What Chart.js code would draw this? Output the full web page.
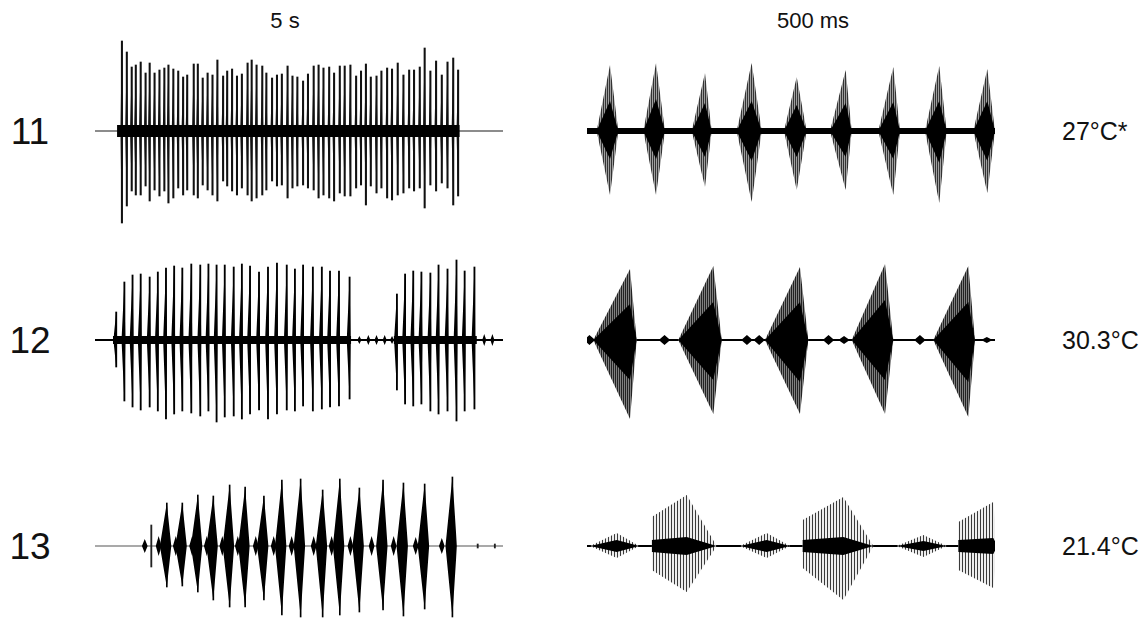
<!DOCTYPE html>
<html>
<head>
<meta charset="utf-8">
<title>Oscillograms</title>
<script src="https://cdn.jsdelivr.net/npm/chart.js@4.4.1/dist/chart.umd.min.js"></script>
<style>
  html, body { margin: 0; padding: 0; background: #fff; }
  body {
    width: 1147px; height: 618px; overflow: hidden; position: relative;
    font-family: "Liberation Sans", Arial, sans-serif; color: #111;
  }
  canvas { position: absolute; }
  .lbl { position: absolute; white-space: nowrap; line-height: 1; }
  .head { font-size: 22px; transform: translate(-50%, -50%); }
  .row { font-size: 37px; transform: translate(-50%, -50%); }
  .temp { font-size: 25px; transform: translateY(-50%); }
</style>
</head>
<body>
<script>
// Labels
const rowLabels = ["11", "12", "13"];
const temperatures = ["27°C*", "30.3°C", "21.4°C"];
const spanLabels = ["5 s", "500 ms"];

// ---- Left column: 5 s (time in s, relative amplitude) ----
// 11: pulse times, positive / negative peak amplitude
const L11_t = [0.33, 0.39, 0.45, 0.50, 0.56, 0.62, 0.67, 0.73, 0.79, 0.85, 0.90, 0.96, 1.02, 1.08, 1.13, 1.21, 1.26, 1.32, 1.38, 1.44, 1.50, 1.57, 1.62, 1.68, 1.74, 1.80, 1.87, 1.92, 1.98, 2.05, 2.10, 2.17, 2.23, 2.29,
  2.36, 2.42, 2.48, 2.55, 2.61, 2.68, 2.74, 2.80, 2.87, 2.93, 3.00, 3.06, 3.13, 3.20, 3.26, 3.32, 3.38, 3.45, 3.51, 3.58, 3.64, 3.71, 3.78, 3.85, 3.91, 3.98, 4.04, 4.11, 4.18, 4.25, 4.32, 4.39, 4.45];
const L11_up = [90, 79, 64, 66, 69, 58, 68, 58, 61, 63, 66, 62, 60, 54, 56, 67, 67, 53, 58, 56, 71, 55, 60, 62, 55, 57, 68, 71, 66, 65, 58, 53, 56, 57,
  65, 55, 54, 50, 57, 65, 66, 63, 64, 58, 65, 65, 66, 55, 60, 67, 54, 55, 60, 63, 62, 68, 56, 61, 61, 64, 83, 60, 70, 56, 69, 73, 61];
const L11_dn = [92, 75, 60, 64, 64, 55, 70, 59, 65, 60, 72, 67, 57, 64, 59, 64, 67, 54, 59, 64, 70, 50, 55, 60, 64, 57, 64, 70, 67, 64, 59, 50, 55, 54,
  67, 57, 55, 54, 57, 59, 67, 64, 67, 70, 62, 65, 65, 57, 54, 74, 55, 62, 57, 67, 69, 64, 62, 57, 60, 57, 77, 54, 60, 52, 57, 74, 65];
const L11_span = [0.27, 4.47];
const L11_core = 6;

// 12
const L12_t = [0.26, 0.36, 0.46, 0.56, 0.67, 0.77, 0.87, 0.97, 1.07, 1.18, 1.29, 1.39, 1.49, 1.59, 1.70, 1.80, 1.90, 2.01, 2.12, 2.23, 2.35, 2.45, 2.55, 2.67, 2.78, 2.88, 2.99, 3.12,
  3.70, 3.80, 3.90, 4.00, 4.11, 4.21, 4.32, 4.43, 4.53, 4.65];
const L12_up = [28, 58, 65, 66, 63, 68, 72, 74, 72, 76, 75, 76, 75, 75, 73, 76, 74, 68, 73, 77, 75, 71, 75, 73, 73, 69, 69, 63,
  46, 66, 69, 68, 67, 75, 71, 80, 69, 73];
const L12_dn = [27, 61, 67, 70, 67, 71, 79, 74, 71, 73, 76, 71, 82, 77, 76, 79, 74, 70, 79, 74, 70, 71, 66, 71, 69, 67, 66, 59,
  50, 64, 66, 64, 71, 74, 71, 81, 71, 69];
const L12_bumpT = [3.24, 3.35, 3.45, 3.55, 3.64, 4.77, 4.87];
const L12_bumpA = [4, 5, 5, 5, 4, 6, 6];
const L12_groups = [[0.22, 3.14], [3.66, 4.68]];
const L12_core = 4;

// 13
const L13_t = [0.88, 1.07, 1.26, 1.45, 1.65, 1.84, 2.07, 2.29, 2.52, 2.79, 3.00, 3.24, 3.53, 3.78, 4.04, 4.38];
const L13_up = [43, 43, 51, 50, 61, 59, 50, 66, 67, 56, 67, 58, 66, 63, 62, 69];
const L13_dn = [41, 40, 46, 54, 61, 61, 54, 69, 71, 71, 69, 66, 64, 70, 63, 71];
const L13_smallT = [0.61, 0.78, 0.99, 1.19, 1.37, 1.56, 1.75, 1.97, 2.19, 2.41, 2.68, 2.90, 3.13, 3.39, 3.66, 3.93, 4.25];
const L13_smallA = [7, 10, 10, 10, 10, 10, 10, 10, 10, 10, 10, 10, 10, 10, 10, 9, 8];
const L13_clickT = [0.69, 4.69, 4.90];
const L13_clickA = [21, 2, 2];

// ---- Right column: 500 ms (time in ms) ----
// 11: syllable onset, peak, offset, peak amplitudes, dense core amplitudes
const R11_on = [11.8, 69.0, 128.3, 183.4, 241.4, 297.8, 357.0, 414.2, 473.4];
const R11_pk = [28.2, 84.6, 144.6, 201.8, 257.0, 317.0, 375.4, 431.7, 490.6];
const R11_off = [38.4, 95.6, 152.8, 214.1, 269.2, 324.4, 383.6, 440.8, 500];
const R11_up = [66, 68, 58, 68, 54, 61, 64, 65, 62];
const R11_dn = [64, 64, 56, 71, 59, 59, 64, 72, 62];
const R11_coreUp = [30, 32, 28, 30, 26, 28, 29, 30, 30];
const R11_coreDn = [28, 28, 26, 30, 26, 26, 28, 32, 30];
const R11_noise = 3;

// 12
const R12_on = [7.7, 111.9, 218.1, 324.4, 424.4];
const R12_pk = [52.7, 154.8, 261.0, 365.2, 467.3];
const R12_off = [60.9, 165.1, 271.2, 375.4, 475.5];
const R12_up = [71, 74, 73, 76, 74];
const R12_dn = [79, 74, 74, 74, 77];
const R12_coreUp = [36, 38, 38, 40, 38];
const R12_coreDn = [40, 40, 42, 40, 42];
const R12_bumpT = [3, 95, 196, 211, 296, 315, 408, 490];
const R12_bumpA = [5, 5, 5, 5, 5, 4, 5, 3];

// 13: short quiet syllables alternating with loud ones
const R13_smallOn = [3.7, 187.5, 379.5];
const R13_smallPk = [36.4, 220.2, 412.2];
const R13_smallOff = [64.1, 248.8, 440.8];
const R13_smallUp = [13, 13, 11];
const R13_smallDn = [12, 12, 11];
const R13_smallCore = [6, 6, 5];
const R13_bigOn = [79.3, 264.3, 455.1];
const R13_bigOnUp = [29, 26, 24];
const R13_bigOnDn = [24, 22, 24];
const R13_bigPk = [122.2, 314.1, 497.9];
const R13_bigUp = [51, 49, 44];
const R13_bigDn = [46, 54, 42];
const R13_bigOff = [158.9, 350.9, 503];
const R13_bigCoreOn = [6, 6, 6];
const R13_bigCore = [9, 9, 8];

// Layout
const LEFT_X = 95, RIGHT_X = 587, PANEL_W = 408, PANEL_H = 200;
const ROW_Y = [131, 340, 546];

// Zero line drawn from the y scale
const baseline = {
  id: "baseline",
  beforeDatasetsDraw(chart, args, opts) {
    const { ctx, chartArea, scales } = chart;
    const y = scales.y.getPixelForValue(0);
    ctx.save();
    ctx.strokeStyle = opts.color;
    ctx.lineWidth = opts.width;
    ctx.beginPath();
    ctx.moveTo(chartArea.left, y);
    ctx.lineTo(chartArea.right, y);
    ctx.stroke();
    ctx.restore();
  },
};

// Envelope points: 0 at onset, peak amplitude, 0 at offset
function envelope(on, pk, off, amp, sign, onAmp) {
  const pts = [];
  pk.forEach((p, i) => {
    pts.push({ x: on[i], y: 0 });
    if (onAmp) pts.push({ x: on[i], y: sign * onAmp[i] });
    pts.push({ x: p, y: sign * amp[i] });
    pts.push({ x: off[i], y: 0 });
  });
  return pts;
}

function area(points, color, order) {
  return {
    type: "line", data: points, order,
    backgroundColor: color, borderColor: "rgba(0,0,0,0)", borderWidth: 0,
    fill: "origin", pointRadius: 0, tension: 0,
  };
}

function bandSet(from, to, amp, color, order) {
  return {
    type: "line", order,
    data: [{ x: from, y: amp }, { x: to, y: amp }],
    backgroundColor: color, borderColor: "rgba(0,0,0,0)", borderWidth: 0,
    fill: { value: -amp }, pointRadius: 0,
  };
}

function bars(t, up, dn, color, thickness, order) {
  return {
    type: "bar", order,
    data: t.map((x, i) => ({ x, y: [-dn[i], up[i]] })),
    backgroundColor: color, barThickness: thickness, grouped: false,
  };
}

// Both halves of a set of pulses
function pulses(on, pk, off, up, dn, color, order, onUp, onDn) {
  return [
    area(envelope(on, pk, off, up, 1, onUp), color, order),
    area(envelope(on, pk, off, dn, -1, onDn), color, order),
  ];
}

function stripes(ctx, dark, light, period) {
  const c = document.createElement("canvas");
  c.width = period; c.height = 1;
  const g = c.getContext("2d");
  g.fillStyle = light; g.fillRect(0, 0, period, 1);
  g.fillStyle = dark; g.fillRect(0, 0, 1, 1);
  return ctx.createPattern(c, "repeat");
}

function addCanvas(left, row) {
  const canvas = document.createElement("canvas");
  canvas.width = PANEL_W;
  canvas.height = PANEL_H;
  canvas.style.left = left + "px";
  canvas.style.top = ROW_Y[row] - PANEL_H / 2 + "px";
  document.body.appendChild(canvas);
  return canvas;
}

function makePanel(canvas, xMax, datasets, lineColor, lineWidth) {
  new Chart(canvas, {
    type: "line",
    data: { datasets },
    options: {
      responsive: false,
      animation: false,
      events: [],
      layout: { padding: 0 },
      plugins: {
        legend: { display: false },
        tooltip: { enabled: false },
        baseline: { color: lineColor, width: lineWidth },
      },
      scales: {
        x: { type: "linear", min: 0, max: xMax, display: false, offset: false },
        y: { min: -PANEL_H / 2, max: PANEL_H / 2, display: false },
      },
    },
    plugins: [baseline],
  });
}

const shift = (arr, d) => arr.map((v) => v + d);

document.addEventListener("DOMContentLoaded", function () {
  // Text labels
  [LEFT_X + 190, RIGHT_X + 226].forEach((x, i) => {
    const d = document.createElement("div");
    d.className = "lbl head";
    d.style.left = x + "px";
    d.style.top = "21px";
    d.textContent = spanLabels[i];
    document.body.appendChild(d);
  });
  ROW_Y.forEach((y, i) => {
    const r = document.createElement("div");
    r.className = "lbl row";
    r.style.left = "30px";
    r.style.top = y + "px";
    r.textContent = rowLabels[i];
    document.body.appendChild(r);
    const t = document.createElement("div");
    t.className = "lbl temp";
    t.style.left = "1062px";
    t.style.top = y + "px";
    t.textContent = temperatures[i];
    document.body.appendChild(t);
  });

  // Left 11
  let c = addCanvas(LEFT_X, 0);
  makePanel(c, 5, [
    bandSet(L11_span[0], L11_span[1], L11_core, "#000", 0),
    bars(L11_t, L11_up, L11_dn, "#111", 1.4, 1),
    ...pulses(shift(L11_t, -0.02), L11_t, shift(L11_t, 0.012), L11_up, L11_dn, "#111", 2),
  ], "#666", 1.3);

  // Left 12
  c = addCanvas(LEFT_X, 1);
  makePanel(c, 5, [
    ...L12_groups.map((g) => bandSet(g[0], g[1], L12_core, "#000", 0)),
    bars(L12_t, L12_up, L12_dn, "#000", 1.2, 1),
    ...pulses(shift(L12_t, -0.035), L12_t, shift(L12_t, 0.012), L12_up, L12_dn, "#000", 2),
    ...pulses(shift(L12_bumpT, -0.025), L12_bumpT, shift(L12_bumpT, 0.025), L12_bumpA, L12_bumpA, "#000", 3),
  ], "#000", 2);

  // Left 13
  c = addCanvas(LEFT_X, 2);
  makePanel(c, 5, [
    bars(L13_t, L13_up, L13_dn, "#000", 1, 0),
    bars(L13_clickT, L13_clickA, L13_clickA, "#222", 1.2, 0),
    ...pulses(shift(L13_t, -0.085), L13_t, shift(L13_t, 0.055), L13_up, L13_dn, "#000", 1),
    ...pulses(shift(L13_smallT, -0.035), L13_smallT, shift(L13_smallT, 0.035), L13_smallA, L13_smallA, "#000", 2),
  ], "#555", 1.2);

  // Right 11
  c = addCanvas(RIGHT_X, 0);
  let pat = stripes(c.getContext("2d"), "#333", "#a0a0a0", 2);
  makePanel(c, 500, [
    bandSet(0, 500, R11_noise, "#000", 0),
    ...pulses(R11_on, R11_pk, R11_off, R11_coreUp, R11_coreDn, "#000", 1),
    ...pulses(R11_on, R11_pk, R11_off, R11_up, R11_dn, pat, 2),
  ], "#000", 2);

  // Right 12
  c = addCanvas(RIGHT_X, 1);
  pat = stripes(c.getContext("2d"), "#222", "#808080", 2);
  makePanel(c, 500, [
    ...pulses(shift(R12_bumpT, -7), R12_bumpT, shift(R12_bumpT, 7), R12_bumpA, R12_bumpA, "#000", 0),
    ...pulses(R12_on, R12_pk, R12_off, R12_coreUp, R12_coreDn, "#000", 1),
    ...pulses(R12_on, R12_pk, R12_off, R12_up, R12_dn, pat, 2),
  ], "#000", 2);

  // Right 13
  c = addCanvas(RIGHT_X, 2);
  pat = stripes(c.getContext("2d"), "#3a3a3a", "#eeeeee", 3);
  makePanel(c, 500, [
    ...pulses(R13_smallOn, R13_smallPk, R13_smallOff, R13_smallCore, R13_smallCore, "#000", 0),
    ...pulses(R13_bigOn, R13_bigPk, R13_bigOff, R13_bigCore, R13_bigCore, "#000", 0, R13_bigCoreOn, R13_bigCoreOn),
    ...pulses(R13_smallOn, R13_smallPk, R13_smallOff, R13_smallUp, R13_smallDn, pat, 1),
    ...pulses(R13_bigOn, R13_bigPk, R13_bigOff, R13_bigUp, R13_bigDn, pat, 1, R13_bigOnUp, R13_bigOnDn),
  ], "#000", 2);
});
</script>
</body>
</html>
